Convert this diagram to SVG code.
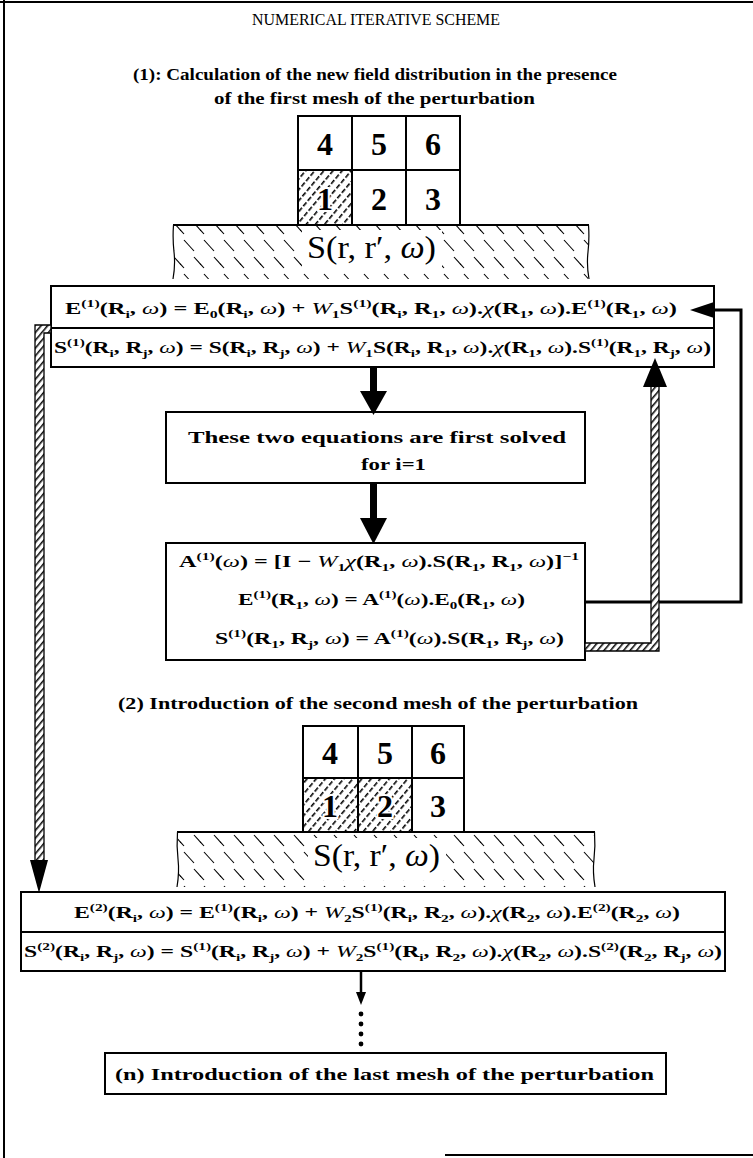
<svg xmlns="http://www.w3.org/2000/svg" width="753" height="1158" viewBox="0 0 753 1158">
<style>
.frame{stroke:#000;stroke-width:2;fill:none}
.box{fill:#fff;stroke:#000;stroke-width:2}
.cell{fill:#fff;stroke:#000;stroke-width:2}
.hcell{fill:url(#hcell);stroke:#000;stroke-width:2}
.t{font-family:"Liberation Serif",serif;font-weight:bold;fill:#000;font-size:17px}
.title{font-family:"Liberation Serif",serif;font-size:16px;fill:#000}
.eq{font-family:"Liberation Serif",serif;font-weight:bold;font-size:17px;fill:#000}
.it{font-style:italic;font-weight:normal}
.s{font-size:11px}
.num{font-family:"Liberation Serif",serif;font-weight:bold;font-size:32px;text-anchor:middle;fill:#000}
.hnum{stroke:#fff;stroke-width:4;paint-order:stroke}
.sub{font-family:"Liberation Serif",serif;font-size:32px;fill:#000}
.hbar{fill:url(#hbar);stroke:#000;stroke-width:1.3}
.thick{fill:none;stroke:#000;stroke-width:3}
</style>
<defs>
<pattern id="hcell" width="7" height="7" patternUnits="userSpaceOnUse" patternTransform="rotate(40)">
<rect width="7" height="7" fill="#fff"/>
<line x1="0.8" y1="0" x2="0.8" y2="7" stroke="#000" stroke-width="1.6" stroke-dasharray="5 2"/>
</pattern>
<pattern id="hbar" width="5" height="5" patternUnits="userSpaceOnUse" patternTransform="rotate(40)">
<rect width="5" height="5" fill="#fff"/>
<line x1="0.8" y1="0" x2="0.8" y2="5" stroke="#000" stroke-width="1.5"/>
</pattern>
<pattern id="hsub" width="20" height="34" patternUnits="userSpaceOnUse">
<rect width="20" height="34" fill="#fff"/>
<line x1="4" y1="2" x2="14" y2="13" stroke="#000" stroke-width="1.1"/>
<line x1="14" y1="19" x2="24" y2="30" stroke="#000" stroke-width="1.1"/>
<line x1="-6" y1="19" x2="4" y2="30" stroke="#000" stroke-width="1.1"/>
</pattern>
</defs>

<g id="frame">
<line class="frame" x1="4" y1="0" x2="4" y2="1158"/>
<line class="frame" x1="0" y1="2" x2="753" y2="2"/>
<line class="frame" x1="445" y1="1155" x2="753" y2="1155"/>
</g>

<g id="title">
<text class="title" x="252" y="25" textLength="248" lengthAdjust="spacingAndGlyphs">NUMERICAL ITERATIVE SCHEME</text>
</g>

<g id="step1-heading">
<text class="t" x="133" y="80" textLength="484" lengthAdjust="spacingAndGlyphs">(1): Calculation of the new field distribution in the presence</text>
<text class="t" x="214" y="104" textLength="321" lengthAdjust="spacingAndGlyphs">of the first mesh of the perturbation</text>
</g>

<g id="mesh1">
<rect class="cell" x="298" y="116" width="54" height="54"/>
<rect class="cell" x="352" y="116" width="54" height="54"/>
<rect class="cell" x="406" y="116" width="54" height="54"/>
<rect class="hcell" x="298" y="170" width="54" height="55"/>
<rect class="cell" x="352" y="170" width="54" height="55"/>
<rect class="cell" x="406" y="170" width="54" height="55"/>
<text class="num" x="325" y="155">4</text>
<text class="num" x="379" y="155">5</text>
<text class="num" x="433" y="155">6</text>
<text class="num hnum" x="325" y="210">1</text>
<text class="num" x="379" y="210">2</text>
<text class="num" x="433" y="210">3</text>
</g>

<g id="substrate1">
<rect x="174" y="226" width="414" height="53" fill="url(#hsub)"/>
<rect x="302" y="230" width="140" height="42" fill="#fff"/>
<line x1="173" y1="225" x2="589" y2="225" stroke="#000" stroke-width="2"/>
<path d="M173.5,225 q-1,14 0.5,27 t-1,27" fill="none" stroke="#000" stroke-width="1.2"/>
<path d="M588.5,225 q1,14 -0.5,27 t1,27" fill="none" stroke="#000" stroke-width="1.2"/>
<text class="sub" x="307" y="258" textLength="129" lengthAdjust="spacingAndGlyphs">S(r, r′, <tspan font-style="italic">ω</tspan>)</text>
</g>

<g id="eqE1">
<rect class="box" x="51" y="286" width="663" height="42"/>
<text class="eq" x="65" y="314" textLength="612" lengthAdjust="spacingAndGlyphs">E<tspan class="s" dy="-7">(1)</tspan><tspan dy="7">(R</tspan><tspan class="s" dy="4">i</tspan><tspan dy="-4">, </tspan><tspan class="it">ω</tspan>) = E<tspan class="s" dy="4">0</tspan><tspan dy="-4">(R</tspan><tspan class="s" dy="4">i</tspan><tspan dy="-4">, </tspan><tspan class="it">ω</tspan>) + <tspan class="it">W</tspan><tspan class="s" dy="4">1</tspan><tspan dy="-4">S</tspan><tspan class="s" dy="-7">(1)</tspan><tspan dy="7">(R</tspan><tspan class="s" dy="4">i</tspan><tspan dy="-4">, R</tspan><tspan class="s" dy="4">1</tspan><tspan dy="-4">, </tspan><tspan class="it">ω</tspan>).<tspan class="it">χ</tspan>(R<tspan class="s" dy="4">1</tspan><tspan dy="-4">, </tspan><tspan class="it">ω</tspan>).E<tspan class="s" dy="-7">(1)</tspan><tspan dy="7">(R</tspan><tspan class="s" dy="4">1</tspan><tspan dy="-4">, </tspan><tspan class="it">ω</tspan>)</text>
</g>

<g id="eqS1">
<rect class="box" x="51" y="328" width="663" height="39"/>
<text class="eq" x="54" y="353" textLength="657" lengthAdjust="spacingAndGlyphs">S<tspan class="s" dy="-7">(1)</tspan><tspan dy="7">(R</tspan><tspan class="s" dy="4">i</tspan><tspan dy="-4">, R</tspan><tspan class="s" dy="4">j</tspan><tspan dy="-4">, </tspan><tspan class="it">ω</tspan>) = S(R<tspan class="s" dy="4">i</tspan><tspan dy="-4">, R</tspan><tspan class="s" dy="4">j</tspan><tspan dy="-4">, </tspan><tspan class="it">ω</tspan>) + <tspan class="it">W</tspan><tspan class="s" dy="4">1</tspan><tspan dy="-4">S(R</tspan><tspan class="s" dy="4">i</tspan><tspan dy="-4">, R</tspan><tspan class="s" dy="4">1</tspan><tspan dy="-4">, </tspan><tspan class="it">ω</tspan>).<tspan class="it">χ</tspan>(R<tspan class="s" dy="4">1</tspan><tspan dy="-4">, </tspan><tspan class="it">ω</tspan>).S<tspan class="s" dy="-7">(1)</tspan><tspan dy="7">(R</tspan><tspan class="s" dy="4">1</tspan><tspan dy="-4">, R</tspan><tspan class="s" dy="4">j</tspan><tspan dy="-4">, </tspan><tspan class="it">ω</tspan>)</text>
</g>

<g id="solve-note">
<rect class="box" x="166" y="412" width="419" height="71"/>
<text class="t" x="188" y="443" textLength="378" lengthAdjust="spacingAndGlyphs">These two equations are first solved</text>
<text class="t" x="361" y="470" textLength="65" lengthAdjust="spacingAndGlyphs">for i=1</text>
</g>

<g id="solution1">
<rect class="box" x="166" y="543" width="419" height="117"/>
<text class="eq" x="179" y="567" textLength="400" lengthAdjust="spacingAndGlyphs">A<tspan class="s" dy="-7">(1)</tspan><tspan dy="7">(</tspan><tspan class="it">ω</tspan>) = [I − <tspan class="it">W</tspan><tspan class="s" dy="4">1</tspan><tspan class="it" dy="-4">χ</tspan>(R<tspan class="s" dy="4">1</tspan><tspan dy="-4">, </tspan><tspan class="it">ω</tspan>).S(R<tspan class="s" dy="4">1</tspan><tspan dy="-4">, R</tspan><tspan class="s" dy="4">1</tspan><tspan dy="-4">, </tspan><tspan class="it">ω</tspan>)]<tspan class="s" dy="-7">−1</tspan></text>
<text class="eq" x="238" y="605" textLength="287" lengthAdjust="spacingAndGlyphs">E<tspan class="s" dy="-7">(1)</tspan><tspan dy="7">(R</tspan><tspan class="s" dy="4">1</tspan><tspan dy="-4">, </tspan><tspan class="it">ω</tspan>) = A<tspan class="s" dy="-7">(1)</tspan><tspan dy="7">(</tspan><tspan class="it">ω</tspan>).E<tspan class="s" dy="4">0</tspan><tspan dy="-4">(R</tspan><tspan class="s" dy="4">1</tspan><tspan dy="-4">, </tspan><tspan class="it">ω</tspan>)</text>
<text class="eq" x="215" y="644" textLength="349" lengthAdjust="spacingAndGlyphs">S<tspan class="s" dy="-7">(1)</tspan><tspan dy="7">(R</tspan><tspan class="s" dy="4">1</tspan><tspan dy="-4">, R</tspan><tspan class="s" dy="4">j</tspan><tspan dy="-4">, </tspan><tspan class="it">ω</tspan>) = A<tspan class="s" dy="-7">(1)</tspan><tspan dy="7">(</tspan><tspan class="it">ω</tspan>).S(R<tspan class="s" dy="4">1</tspan><tspan dy="-4">, R</tspan><tspan class="s" dy="4">j</tspan><tspan dy="-4">, </tspan><tspan class="it">ω</tspan>)</text>
</g>

<g id="step2-heading">
<text class="t" x="118" y="709" textLength="520" lengthAdjust="spacingAndGlyphs">(2) Introduction of the second mesh of the perturbation</text>
</g>

<g id="mesh2">
<rect class="cell" x="303" y="726" width="55" height="52"/>
<rect class="cell" x="358" y="726" width="54" height="52"/>
<rect class="cell" x="412" y="726" width="52" height="52"/>
<rect class="hcell" x="303" y="778" width="55" height="54"/>
<rect class="hcell" x="358" y="778" width="54" height="54"/>
<rect class="cell" x="412" y="778" width="52" height="54"/>
<text class="num" x="330" y="764">4</text>
<text class="num" x="385" y="764">5</text>
<text class="num" x="438" y="764">6</text>
<text class="num hnum" x="330" y="817">1</text>
<text class="num hnum" x="385" y="817">2</text>
<text class="num" x="438" y="817">3</text>
</g>

<g id="substrate2">
<rect x="178" y="833" width="416" height="54" fill="url(#hsub)"/>
<rect x="308" y="838" width="138" height="42" fill="#fff"/>
<line x1="177" y1="832" x2="595" y2="832" stroke="#000" stroke-width="2"/>
<path d="M177.5,832 q-1,14 0.5,27 t-1,28" fill="none" stroke="#000" stroke-width="1.2"/>
<path d="M594.5,832 q1,14 -0.5,27 t1,28" fill="none" stroke="#000" stroke-width="1.2"/>
<text class="sub" x="313" y="866" textLength="127" lengthAdjust="spacingAndGlyphs">S(r, r′, <tspan font-style="italic">ω</tspan>)</text>
</g>

<g id="eqE2">
<rect class="box" x="21" y="892" width="704" height="40"/>
<text class="eq" x="74" y="918" textLength="606" lengthAdjust="spacingAndGlyphs">E<tspan class="s" dy="-7">(2)</tspan><tspan dy="7">(R</tspan><tspan class="s" dy="4">i</tspan><tspan dy="-4">, </tspan><tspan class="it">ω</tspan>) = E<tspan class="s" dy="-7">(1)</tspan><tspan dy="7">(R</tspan><tspan class="s" dy="4">i</tspan><tspan dy="-4">, </tspan><tspan class="it">ω</tspan>) + <tspan class="it">W</tspan><tspan class="s" dy="4">2</tspan><tspan dy="-4">S</tspan><tspan class="s" dy="-7">(1)</tspan><tspan dy="7">(R</tspan><tspan class="s" dy="4">i</tspan><tspan dy="-4">, R</tspan><tspan class="s" dy="4">2</tspan><tspan dy="-4">, </tspan><tspan class="it">ω</tspan>).<tspan class="it">χ</tspan>(R<tspan class="s" dy="4">2</tspan><tspan dy="-4">, </tspan><tspan class="it">ω</tspan>).E<tspan class="s" dy="-7">(2)</tspan><tspan dy="7">(R</tspan><tspan class="s" dy="4">2</tspan><tspan dy="-4">, </tspan><tspan class="it">ω</tspan>)</text>
</g>

<g id="eqS2">
<rect class="box" x="21" y="932" width="704" height="39"/>
<text class="eq" x="24" y="957" textLength="698" lengthAdjust="spacingAndGlyphs">S<tspan class="s" dy="-7">(2)</tspan><tspan dy="7">(R</tspan><tspan class="s" dy="4">i</tspan><tspan dy="-4">, R</tspan><tspan class="s" dy="4">j</tspan><tspan dy="-4">, </tspan><tspan class="it">ω</tspan>) = S<tspan class="s" dy="-7">(1)</tspan><tspan dy="7">(R</tspan><tspan class="s" dy="4">i</tspan><tspan dy="-4">, R</tspan><tspan class="s" dy="4">j</tspan><tspan dy="-4">, </tspan><tspan class="it">ω</tspan>) + <tspan class="it">W</tspan><tspan class="s" dy="4">2</tspan><tspan dy="-4">S</tspan><tspan class="s" dy="-7">(1)</tspan><tspan dy="7">(R</tspan><tspan class="s" dy="4">i</tspan><tspan dy="-4">, R</tspan><tspan class="s" dy="4">2</tspan><tspan dy="-4">, </tspan><tspan class="it">ω</tspan>).<tspan class="it">χ</tspan>(R<tspan class="s" dy="4">2</tspan><tspan dy="-4">, </tspan><tspan class="it">ω</tspan>).S<tspan class="s" dy="-7">(2)</tspan><tspan dy="7">(R</tspan><tspan class="s" dy="4">2</tspan><tspan dy="-4">, R</tspan><tspan class="s" dy="4">j</tspan><tspan dy="-4">, </tspan><tspan class="it">ω</tspan>)</text>
</g>

<g id="last-step">
<rect class="box" x="105" y="1053" width="561" height="41"/>
<text class="t" x="115" y="1080" textLength="539" lengthAdjust="spacingAndGlyphs">(n) Introduction of the last mesh of the perturbation</text>
</g>

<g id="connectors">
<rect x="370" y="367" width="7" height="26" fill="#000"/>
<polygon points="360,391 387,391 373.5,415" fill="#000"/>
<rect x="370" y="483" width="7" height="37" fill="#000"/>
<polygon points="360,518 387,518 373.5,544" fill="#000"/>
<path class="thick" d="M585,602 H741 V310 H712"/>
<polygon points="714,302 714,318 690,310" fill="#000"/>
<polygon class="hbar" points="585,643 651,643 651,386 659,386 659,651 585,651"/>
<polygon points="643,387 667,387 655,358" fill="#000"/>
<polygon class="hbar" points="51,325 51,333 44,333 44,862 35,862 35,325"/>
<polygon points="30,860 48,860 39,893" fill="#000"/>
<line x1="361" y1="971" x2="361" y2="994" stroke="#000" stroke-width="2.5"/>
<polygon points="356,992 366,992 361,1005" fill="#000"/>
<circle cx="361" cy="1014" r="2.4" fill="#000"/>
<circle cx="361" cy="1024" r="2.4" fill="#000"/>
<circle cx="361" cy="1034" r="2.4" fill="#000"/>
<circle cx="361" cy="1044" r="2.4" fill="#000"/>
</g>
</svg>
